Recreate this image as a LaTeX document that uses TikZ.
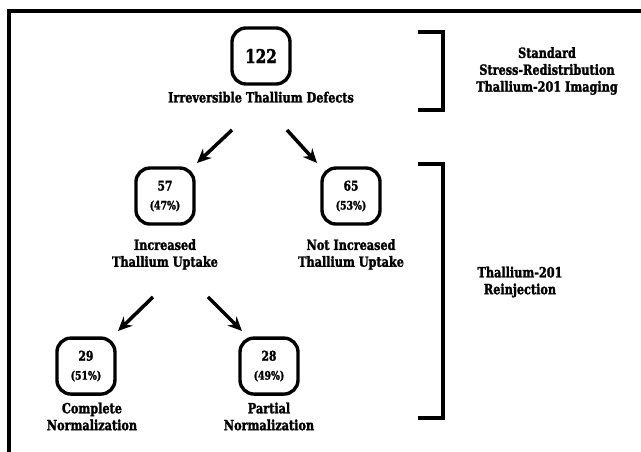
\documentclass[tikz,border=0pt]{standalone}
\usepackage{fontspec}
\setmainfont{DejaVu Serif}[FakeStretch=0.8,BoldFeatures={FakeBold=1.8}]
\usepackage{tikz}
\usetikzlibrary{arrows.meta,positioning}
\tikzset{>={Stealth[length=10pt,width=9pt]}}
\tikzset{count node/.style={draw,rounded corners=10pt,line width=2.4pt,minimum width=1.45cm,minimum height=1.4cm,inner sep=0pt,align=center,font=\bfseries\fontsize{9.5}{13.5}\selectfont},
            label node/.style={align=center,font=\bfseries\fontsize{10}{12}\selectfont},
            split arrow/.style={->,line width=2.5pt},
            side bracket/.style={line width=2.2pt},
            }
\newcommand{\pct}[1]{{\fontsize{8.3}{8}\selectfont(#1\%)}}

\begin{document}
\begin{tikzpicture}[x=0.025cm,y=-0.025cm,on grid]

    \useasboundingbox (0,0) rectangle (641,452);
    \draw[line width=2.5pt] (9,452) |- (641,11);

    \node[count node,font=\bfseries\fontsize{13.5}{14}\selectfont] (n122) at (261,56) {122};
    \node[count node] (n57) [below left = 3.5cm and 2.4cm of n122] {57\\\pct{47}};
    \node[count node] (n65) [below right = 3.5cm and 2.25cm of n122] {65\\\pct{53}};
    \node[count node] (n29) [below left = 4.25cm and 1.975cm of n57] {29\\\pct{51}};
    \node[count node] (n28) [below right = 4.25cm and 2.6cm of n57] {28\\\pct{49}};

    \node[label node] (defects) [below = 1.03cm of n122] {Irreversible Thallium Defects};
    \node[label node] (incr) [below = 1.46cm of n57] {Increased\\Thallium Uptake};
    \node[label node] (notincr) [below = 1.46cm of n65] {Not Increased\\Thallium Uptake};
    \node[label node] (complete) [below right = 1.26cm and 0.15cm of n29] {Complete\\Normalization};
    \node[label node] (partial) [below = 1.26cm of n28] {Partial\\Normalization};

    \node[label node] (imaging) at (547,71) {Standard\\Stress-Redistribution\\Thallium-201 Imaging};
    \node[label node] (reinj) at (520,282) {Thallium-201\\Reinjection};

    % brackets
    \draw[side bracket] (418,32) -| (443,110) -- (418,110);
    \draw[side bracket] (418,164) -| (443,418) -- (418,418);

    % arrows
    \coordinate (t1) at (232,130);
    \coordinate (h1) at (197,163);
    \coordinate (t2) at (287,130);
    \coordinate (h2) at (317,163);
    \coordinate (t3) at (153,297);
    \coordinate (h3) at (118,331);
    \coordinate (t4) at (208,297);
    \coordinate (h4) at (242,331);
    \path[split arrow]
    (t1) edge (h1)
    (t2) edge (h2)
    (t3) edge (h3)
    (t4) edge (h4);

\end{tikzpicture}
\end{document}
